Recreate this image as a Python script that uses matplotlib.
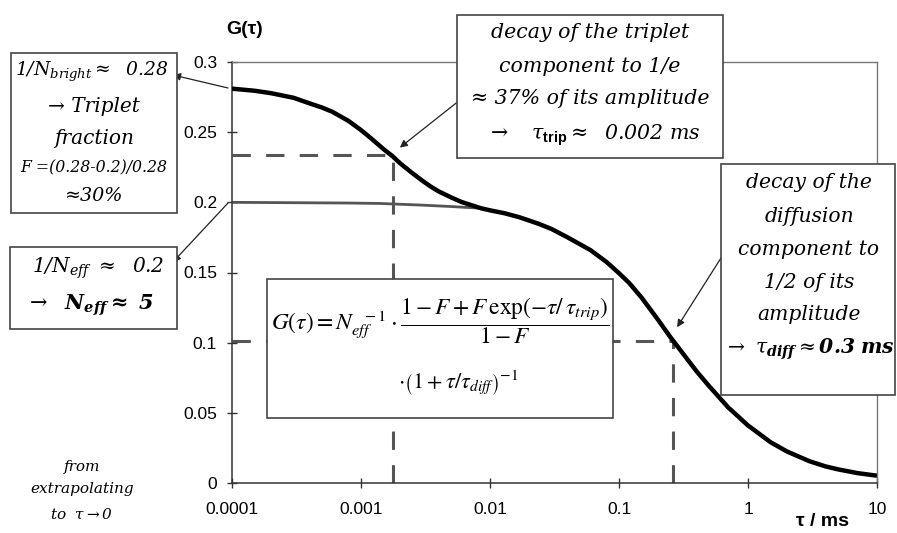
import matplotlib
matplotlib.use("Agg")
import matplotlib.pyplot as plt
from matplotlib.patches import Rectangle

# ---------------- data ----------------
tau_full = [1e-4, 1.5e-4, 2e-4, 3e-4, 4e-4, 5e-4, 6e-4, 8e-4, 1e-3, 1.2e-3,
            1.5e-3, 1.75e-3, 2e-3, 2.5e-3, 3e-3, 3.5e-3, 4e-3, 5e-3, 6e-3,
            7e-3, 8.5e-3, 0.01, 0.013, 0.017, 0.024, 0.03, 0.04, 0.06, 0.08,
            0.1, 0.12, 0.15, 0.2, 0.25, 0.3, 0.4, 0.5, 0.7, 1.0, 1.5, 2.0,
            3.0, 4.0, 5.0, 7.0, 10.0]
g_full = [0.281, 0.2795, 0.2778, 0.2745, 0.2705, 0.2675, 0.2645, 0.258, 0.2515,
          0.2455, 0.2378, 0.233, 0.228, 0.2208, 0.2153, 0.211, 0.2078, 0.2035,
          0.2003, 0.1983, 0.1958, 0.1943, 0.1922, 0.1893, 0.1846, 0.181, 0.175,
          0.166, 0.1575, 0.1495, 0.1425, 0.132, 0.1165, 0.104, 0.0945, 0.0795,
          0.069, 0.054, 0.041, 0.029, 0.0225, 0.0155, 0.0118, 0.0097, 0.0071,
          0.0052]
tau_diff_only = [1e-4, 8e-4, 1.4e-3, 3e-3, 5e-3, 8.5e-3, 0.01]
g_diff_only = [0.2, 0.1995, 0.1992, 0.198, 0.197, 0.1958, 0.1943]

tau_trip = 0.00176
g_trip = 0.234
tau_diff = 0.263
g_diff = 0.101

xticks = [1e-4, 1e-3, 1e-2, 1e-1, 1, 10]
xticklabels = ["0.0001", "0.001", "0.01", "0.1", "1", "10"]
yticks = [0, 0.05, 0.1, 0.15, 0.2, 0.25, 0.3]
yticklabels = ["0", "0.05", "0.1", "0.15", "0.2", "0.25", "0.3"]

# ---------------- style ----------------
plt.rcParams["font.family"] = ["Liberation Sans", "DejaVu Sans"]
plt.rcParams["mathtext.fontset"] = "custom"
plt.rcParams["mathtext.rm"] = "DejaVu Serif:italic"
plt.rcParams["mathtext.it"] = "DejaVu Serif:italic"
plt.rcParams["mathtext.bf"] = "DejaVu Serif:bold:italic"
plt.rcParams["mathtext.sf"] = "Liberation Sans:bold"

W, H = 897, 533
fig = plt.figure(figsize=(W / 100, H / 100), dpi=100)


def P(x, y):
    return (x / W, 1 - y / H)


ax = fig.add_axes([232 / W, 50 / H, 645 / W, 421 / H])
ax.set_xscale("log")
ax.set_xlim(1e-4, 10)
ax.set_ylim(0, 0.3)

ax.plot(tau_diff_only, g_diff_only, color="#555555", lw=2.0, zorder=2)
ax.plot(tau_full, g_full, color="black", lw=3.2, zorder=3,
        solid_capstyle="butt", solid_joinstyle="round")

dash_kw = dict(color="#555555", lw=2.2, dashes=(6, 5), zorder=1)
ax.plot([1e-4, tau_trip], [g_trip, g_trip], **dash_kw)
ax.plot([tau_trip, tau_trip], [0, g_trip], **dash_kw)
ax.plot([1e-4, tau_diff], [g_diff, g_diff], **dash_kw)
ax.plot([tau_diff, tau_diff], [0, g_diff], **dash_kw)

ax.set_xticks(xticks)
ax.set_xticklabels(xticklabels)
ax.set_yticks(yticks)
ax.set_yticklabels(yticklabels)
ax.minorticks_off()
ax.tick_params(axis="both", direction="inout", length=7.5, width=1,
               color="#333333", labelsize=12.5)
ax.tick_params(axis="y", pad=7)
ax.tick_params(axis="x", pad=10)
for s in ["left", "bottom"]:
    ax.spines[s].set_color("#333333")
    ax.spines[s].set_linewidth(1.1)
for s in ["top", "right"]:
    ax.spines[s].set_color("#777777")
    ax.spines[s].set_linewidth(1.0)

fig.text(*P(245, 30), "G(τ)", fontsize=14, fontweight="bold",
         ha="center", va="center")
fig.text(*P(822, 521), "τ / ms", fontsize=14, fontweight="bold",
         ha="center", va="center")


# ---------------- boxes ----------------
def box(x0, y0, x1, y1):
    r = Rectangle(P(x0, y1), (x1 - x0) / W, (y1 - y0) / H,
                  transform=fig.transFigure, facecolor="white",
                  edgecolor="#444444", lw=1.2, zorder=5)
    fig.add_artist(r)


def txt(x, y, s, size=13.5, ha="center", **kw):
    fig.text(*P(x, y), s, fontsize=size, ha=ha, va="center",
             zorder=6, **kw)


serif_it = dict(family="DejaVu Serif", style="italic")

# box 1
box(11, 53, 177, 213)
txt(92, 72, r"$1/N_{bright}\approx\ \ 0.28$", 13.5)
txt(94, 107, "→ Triplet", 14.5, **serif_it)
txt(94, 138, "fraction", 14.5, **serif_it)
txt(94, 168, "F =(0.28-0.2)/0.28", 11.3, **serif_it)
txt(94, 196, "≈30%", 13.8, **serif_it)

# box 2
box(10, 247, 177, 329)
txt(98, 268, r"$1/N_{eff}\ \approx\ \ 0.2$", 14.5)
txt(90, 305, r"$\rightarrow\ \ \mathbf{N}_{\mathbf{eff}}\mathbf{\approx\ 5}$", 15)

# box 3
box(457, 15, 723, 158)
txt(590, 33, "decay of the triplet", 14.8, **serif_it)
txt(590, 67, "component to 1/e", 14.8, **serif_it)
txt(590, 99, "≈ 37% of its amplitude", 14.8, **serif_it)
txt(594, 135, r"$\rightarrow\ \ \ \tau_{\mathsf{trip}}\approx\ \ 0.002\ ms$", 14.8)

# box 4
box(721, 164, 895, 395)
txt(809, 183, "decay of the", 14.6, **serif_it)
txt(809, 217, "diffusion", 14.6, **serif_it)
txt(809, 249, "component to", 14.6, **serif_it)
txt(809, 282, "1/2 of its", 14.6, **serif_it)
txt(809, 315, "amplitude", 14.6, **serif_it)
txt(809, 349, r"$\rightarrow\ \tau_{\mathbf{diff}}\approx\mathbf{0.3\ ms}$", 14.6)

# formula box
box(267, 279, 613, 418)
txt(271, 321, r"$G(\tau)=N_{eff}^{\ \ -1}\cdot\dfrac{1-F+F\,\exp(-\tau/\,\tau_{trip})}{1-F}$",
    16.8, ha="left", math_fontfamily="stix")
txt(458, 383, r"$\cdot\left(1+\tau/\tau_{diff}\right)^{-1}$", 16,
    math_fontfamily="stix")

# bottom-left note
txt(82, 467, "from", 11, **serif_it)
txt(82, 489, "extrapolating", 11, **serif_it)
txt(82, 514, r"$to\ \ \tau\rightarrow 0$", 11)

# ---------------- arrows ----------------
arr = dict(arrowstyle="-|>", color="#222222", lw=0.9, mutation_scale=11,
           shrinkA=0, shrinkB=0)
ax.annotate("", xy=P(173, 75), xycoords="figure fraction",
            xytext=P(228, 88), textcoords="figure fraction",
            arrowprops=arr, annotation_clip=False)
ax.annotate("", xy=P(173, 262), xycoords="figure fraction",
            xytext=P(228, 203), textcoords="figure fraction",
            arrowprops=arr, annotation_clip=False)
ax.annotate("", xy=(0.002, 0.239), xycoords="data",
            xytext=P(460, 100), textcoords="figure fraction",
            arrowprops=arr, annotation_clip=False)
ax.annotate("", xy=(0.282, 0.111), xycoords="data",
            xytext=P(721, 258), textcoords="figure fraction",
            arrowprops=arr, annotation_clip=False)

fig.savefig("out.png", dpi=100)
